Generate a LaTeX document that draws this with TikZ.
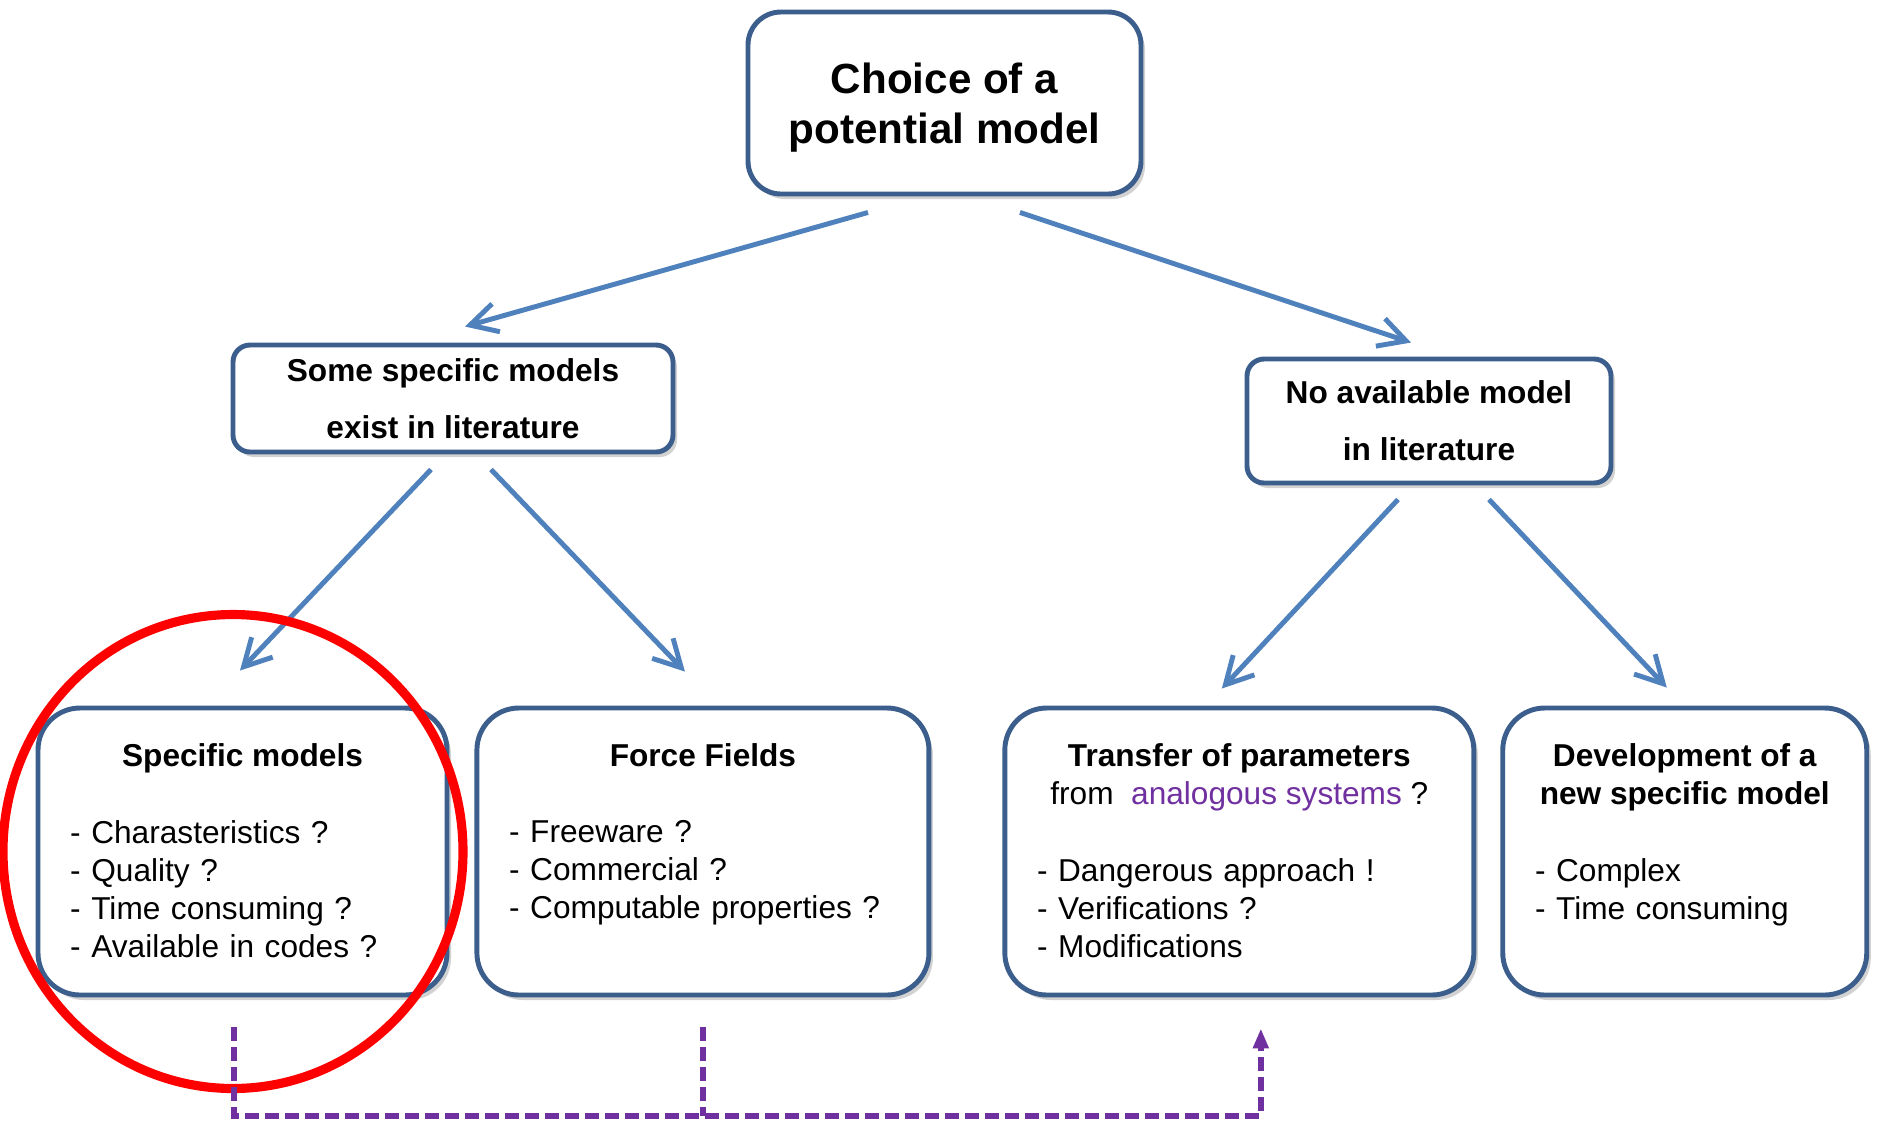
\documentclass[tikz,border=0pt]{standalone}
\usepackage{fontspec}
\setmainfont{Liberation Sans}[Ligatures=CommonOff]
\usetikzlibrary{arrows.meta,shadows,positioning}

\definecolor{boxblue}{HTML}{3B5E8C}
\definecolor{arrowblue}{HTML}{4F81BD}
\definecolor{linkpurple}{HTML}{7030A0}

\begin{document}
\begin{tikzpicture}[x=1cm,y=1cm]
                \tikzset{Box/.style={draw=boxblue, line width=1.4pt, fill=white, inner sep=0pt,
                                     rounded corners=0.42cm, minimum height=2.87cm,
                                     drop shadow={shadow xshift=0.04cm, shadow yshift=-0.05cm, opacity=0.35}},
                         Head/.style={font=\fontsize{9}{16.2}\selectfont\bfseries, align=center, rounded corners=0.17cm},
                         Title/.style={font=\fontsize{9}{10.8}\selectfont\bfseries, align=center, inner sep=0pt, anchor=north},
                         Items/.style={font=\fontsize{9}{10.8}\selectfont, text width=3.9cm, align=left, inner sep=0pt, anchor=north west},
                         Arrow/.style={draw=arrowblue, line width=1.4pt, -{Straight Barb[length=0.27cm,width=0.29cm]}},
                         Link/.style={draw=linkpurple, line width=1.6pt, dash pattern=on 0.14cm off 0.06cm}}
                \path[use as bounding box, fill=white] (0,0) rectangle (18.78,-11.22);
                \node[Box, minimum width=3.93cm, minimum height=1.82cm, rounded corners=0.33cm, text depth=0pt,
                      font=\fontsize{12}{14.2}\selectfont\bfseries, align=center] (Choice) at (9.445,-1.03) {Choice of a\\potential model};
                \node[Box, Head, minimum width=4.40cm, minimum height=1.07cm] (Some) at (4.53,-3.985) {Some specific models\\exist in literature};
                \node[Box, Head, minimum width=3.64cm, minimum height=1.24cm] (NoModel) at (14.29,-4.21) {No available model\\in literature};
                \node[Box, minimum width=4.09cm] (Spec) at (2.425,-8.515) {};
                \node[Box, minimum width=4.52cm, right=0.25cm of Spec] (Force) {};
                \node[Box, minimum width=4.69cm, right=0.71cm of Force] (Transfer) {};
                \node[Box, minimum width=3.64cm, right=0.24cm of Transfer] (Develop) {};
                \node[Title] (SpecTitle) at ([yshift=-0.37cm]Spec.north) {Specific models};
                \node[Title] (ForceTitle) at ([yshift=-0.37cm]Force.north) {Force Fields};
                \node[Title] (TransferTitle) at ([yshift=-0.37cm]Transfer.north) {Transfer of parameters\\
                      {\mdseries from\ \ \textcolor{linkpurple}{analogous systems} ?}};
                \node[Title] (DevelopTitle) at ([yshift=-0.37cm]Develop.north) {Development of a\\new specific model};
                \node[Items] (SpecItems) at ([xshift=0.34cm,yshift=-1.14cm]Spec.north west)
                      {- Charasteristics ?\\- Quality ?\\- Time consuming ?\\- Available in codes ?};
                \node[Items] (ForceItems) at ([xshift=0.34cm,yshift=-1.14cm]Force.north west)
                      {- Freeware ?\\- Commercial ?\\- Computable properties ?};
                \node[Items] (TransferItems) at ([xshift=0.34cm,yshift=-1.52cm]Transfer.north west)
                      {- Dangerous approach !\\- Verifications ?\\- Modifications};
                \node[Items] (DevelopItems) at ([xshift=0.34cm,yshift=-1.52cm]Develop.north west)
                      {- Complex\\- Time consuming};
                \draw[Arrow] ([xshift=-0.765cm,yshift=-0.16cm]Choice.south) -- ([xshift=0.12cm,yshift=0.16cm]Some.north);
                \draw[Arrow] ([xshift=0.755cm,yshift=-0.16cm]Choice.south) -- ([xshift=-0.18cm,yshift=0.14cm]NoModel.north);
                \draw[Arrow] ([xshift=-0.22cm,yshift=-0.15cm]Some.south) -- ([xshift=-0.025cm,yshift=0.35cm]Spec.north);
                \draw[Arrow] ([xshift=0.38cm,yshift=-0.15cm]Some.south) -- ([xshift=-0.18cm,yshift=0.34cm]Force.north);
                \draw[Arrow] ([xshift=-0.31cm,yshift=-0.14cm]NoModel.south) -- ([xshift=-0.175cm,yshift=0.17cm]Transfer.north);
                \draw[Arrow] ([xshift=0.60cm,yshift=-0.14cm]NoModel.south) -- ([xshift=-0.18cm,yshift=0.18cm]Develop.north);
                \draw[red, line width=2.6pt] ([xshift=-0.095cm]Spec.center) ellipse [x radius=2.30, y radius=2.37];
                \coordinate (Bus) at (0,-11.16);
                \coordinate (SpecOut) at ([xshift=-0.085cm,yshift=-0.30cm]Spec.south);
                \coordinate (ForceOut) at ([yshift=-0.30cm]Force.south);
                \coordinate (TransferIn) at ([xshift=0.215cm,yshift=-0.31cm]Transfer.south);
                \draw[Link, -{Triangle[length=0.2cm,width=0.15cm]}] (SpecOut) |- (TransferIn |- Bus) -- (TransferIn);
                \draw[Link] (ForceOut) -- (ForceOut |- Bus);
            \end{tikzpicture}
\end{document}
